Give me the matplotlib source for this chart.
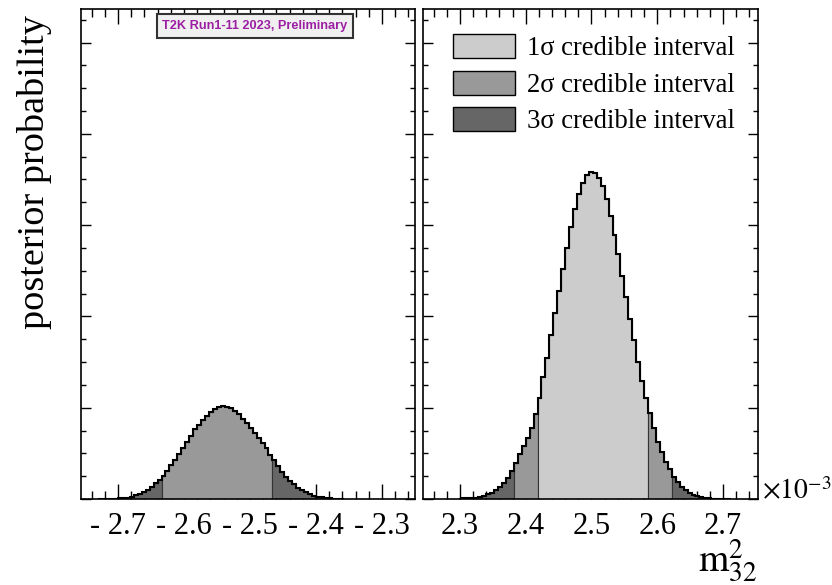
import numpy as np
import matplotlib.pyplot as plt
from matplotlib.ticker import MultipleLocator, FuncFormatter
from matplotlib.patches import Patch

plt.rcParams['font.family'] = ['Liberation Serif', 'DejaVu Serif']
plt.rcParams['mathtext.fontset'] = 'stix'

# dm2_32 in units of 1e-3 eV^2, fixed bin width
bin_width = 0.006

# inverted ordering (negative dm2), posterior probability per bin [%]
io_first_edge = -2.730
io_prob = [0.001, 0.001, 0.002, 0.003, 0.004, 0.007, 0.011, 0.014, 0.025, 0.044,
           0.058, 0.080, 0.102, 0.135, 0.172, 0.205, 0.252, 0.310, 0.372, 0.427,
           0.489, 0.555, 0.627, 0.693, 0.763, 0.810, 0.865, 0.912, 0.956, 0.986,
           1.011, 1.022, 1.011, 0.993, 0.964, 0.927, 0.876, 0.829, 0.774, 0.719,
           0.665, 0.610, 0.555, 0.487, 0.422, 0.361, 0.299, 0.244, 0.197, 0.161,
           0.124, 0.099, 0.073, 0.055, 0.036, 0.025, 0.019, 0.011, 0.007, 0.004,
           0.003, 0.002]

# normal ordering (positive dm2)
no_first_edge = 2.298
no_prob = [0.004, 0.007, 0.009, 0.011, 0.014, 0.019, 0.033, 0.051, 0.069, 0.099,
           0.135, 0.178, 0.227, 0.307, 0.391, 0.489, 0.580, 0.668, 0.777, 0.931,
           1.106, 1.336, 1.544, 1.796, 2.037, 2.278, 2.519, 2.748, 2.978, 3.176,
           3.340, 3.460, 3.548, 3.581, 3.570, 3.515, 3.427, 3.285, 3.099, 2.891,
           2.683, 2.442, 2.212, 1.971, 1.741, 1.500, 1.292, 1.106, 0.942, 0.777,
           0.624, 0.515, 0.405, 0.329, 0.241, 0.186, 0.135, 0.099, 0.069, 0.044,
           0.033, 0.019, 0.011, 0.008, 0.005, 0.003, 0.003, 0.002, 0.002]

# credible interval limits
no_1sig = (2.418, 2.586)
no_2sig = (2.382, 2.622)
io_2sig = (-2.634, -2.466)

interval_labels = ['1σ credible interval', '2σ credible interval', '3σ credible interval']
fill_colors = {1: '#cccccc', 2: '#999999', 3: '#666666'}


def draw_hist(ax, first_edge, prob, two_sig, one_sig=None):
    prob = np.asarray(prob)
    edges = first_edge + bin_width * np.arange(len(prob) + 1)
    centers = 0.5 * (edges[:-1] + edges[1:])
    level = np.full(len(prob), 3)
    level[(centers > two_sig[0]) & (centers < two_sig[1])] = 2
    if one_sig is not None:
        level[(centers > one_sig[0]) & (centers < one_sig[1])] = 1

    # fill each contiguous run of the same credible level
    start = 0
    for i in range(1, len(prob) + 1):
        if i == len(prob) or level[i] != level[start]:
            ax.stairs(prob[start:i], edges[start:i + 1], fill=True,
                      facecolor=fill_colors[level[start]], edgecolor='#333333',
                      linewidth=0.8, zorder=2)
            start = i
    ax.stairs(prob, edges, color='black', linewidth=1.5, baseline=None, zorder=3)


def tick_fmt(v, pos):
    if v < 0:
        return f"- {abs(v):.1f}"
    return f"{v:.1f}"


fig = plt.figure(figsize=(8.32, 5.85), dpi=100)
W, H = 832, 585
ax_l = fig.add_axes([81 / W, 86 / H, 334 / W, 490 / H])
ax_r = fig.add_axes([423 / W, 86 / H, 335 / W, 490 / H])

draw_hist(ax_l, io_first_edge, io_prob, io_2sig)
draw_hist(ax_r, no_first_edge, no_prob, no_2sig, no_1sig)

ax_l.set_xlim(-2.756, -2.25)
ax_r.set_xlim(2.244, 2.753)

for ax in (ax_l, ax_r):
    ax.set_ylim(0, 5.367)
    ax.xaxis.set_major_locator(MultipleLocator(0.1))
    ax.xaxis.set_minor_locator(MultipleLocator(0.02))
    ax.yaxis.set_major_locator(MultipleLocator(1.0))
    ax.yaxis.set_minor_locator(MultipleLocator(0.25))
    ax.xaxis.set_major_formatter(FuncFormatter(tick_fmt))
    ax.tick_params(which='both', direction='in', top=True, right=True,
                   labelleft=False, width=1.0)
    ax.tick_params(axis='x', which='major', length=10.8, labelsize=22, pad=9)
    ax.tick_params(axis='x', which='minor', length=5.8)
    ax.tick_params(axis='y', which='major', length=7.2)
    ax.tick_params(axis='y', which='minor', length=3.6)
    for sp in ax.spines.values():
        sp.set_linewidth(1.2)

handles = [Patch(facecolor=fill_colors[i + 1], edgecolor='black', linewidth=1.0,
                 label=interval_labels[i]) for i in range(3)]
ax_r.legend(handles=handles, loc='upper left', bbox_to_anchor=(0.0887, 0.949),
            borderaxespad=0, borderpad=0, frameon=False, fontsize=19.2,
            handlelength=2.32, handleheight=1.0, handletextpad=0.45,
            labelspacing=0.36)

ax_l.text(0.521, 0.965, 'T2K Run1-11 2023, Preliminary', transform=ax_l.transAxes,
          ha='center', va='center', fontsize=9.2, fontweight='bold',
          color='#9c1fa3', family='Liberation Sans', zorder=5,
          bbox=dict(boxstyle='square,pad=0.45', facecolor='#f0f0f0',
                    edgecolor='#333333', linewidth=1.5))

fig.text(35 / W, 1 - 15 / H, 'posterior probability', rotation=90,
         ha='center', va='top', fontsize=27.5)
fig.text(757 / W, 0.002, r'$\mathrm{m}^{2}_{32}$', ha='right', va='bottom',
         fontsize=28)
fig.text(762 / W, 1 - 499 / H, r'$\times10^{-3}$', ha='left', va='baseline',
         fontsize=20)

fig.savefig('out.png', dpi=100)
